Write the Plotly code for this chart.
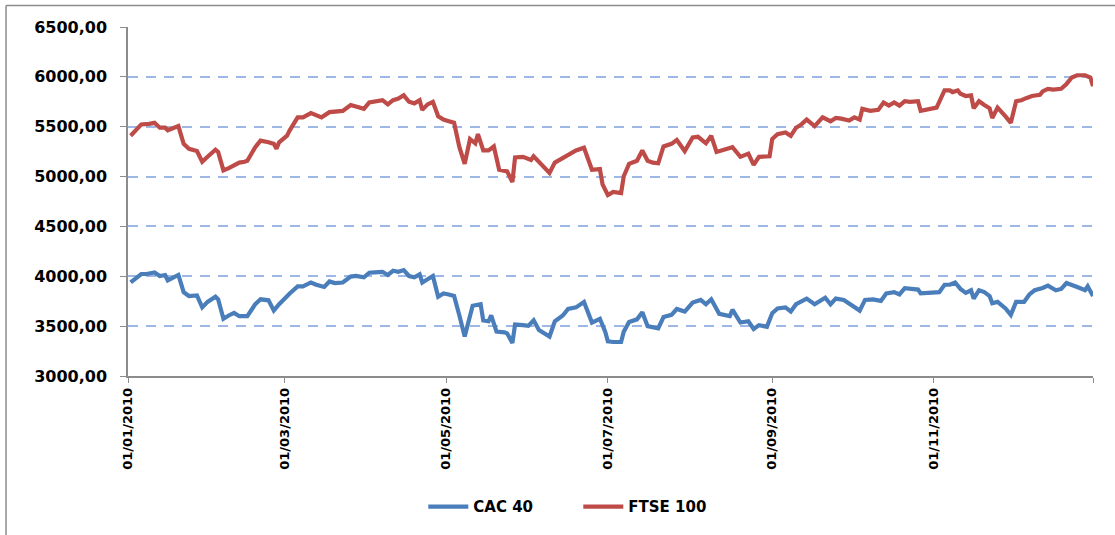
import pandas as pd
import plotly.graph_objects as go

# Day of year (0 = 01/01/2010) and index level
ftse_days = [1, 3, 5, 8, 10, 12, 14, 15, 17, 19, 21, 23, 26, 28, 30, 33, 34, 36, 38, 42,
             44, 45, 48, 50, 53, 55, 56, 57, 60, 61, 64, 66, 69, 71, 73, 76, 78, 81, 84, 86,
             89, 91, 93, 96, 98, 100, 102, 104, 106, 108, 110, 111, 113, 115, 117, 119, 121, 123, 125, 127,
             129, 131, 132, 134, 136, 138, 140, 142, 143, 145, 146, 149, 152, 153, 156, 159, 161, 164, 167, 169,
             172, 175, 178, 179, 181, 183, 186, 187, 189, 192, 194, 196, 198, 200, 202, 205, 207, 210, 213, 215,
             218, 220, 222, 225, 228, 231, 233, 234, 236, 238, 242, 243, 245, 248, 250, 252, 254, 256, 259, 262,
             265, 267, 269, 272, 274, 276, 277, 280, 283, 285, 287, 289, 291, 293, 295, 298, 299, 301, 303, 305,
             306, 308, 310, 311, 313, 314, 316, 318, 319, 321, 323, 325, 326, 328, 331, 333, 335, 337, 339, 341,
             344, 345, 347, 349, 352, 354, 356, 358, 361, 363, 364]
ftse_values = [5409, 5474, 5523, 5529, 5539, 5490, 5490, 5464, 5490, 5506, 5328, 5279, 5256, 5149, 5198, 5269, 5247, 5062, 5084, 5140,
               5149, 5159, 5295, 5360, 5344, 5328, 5279, 5344, 5410, 5464, 5594, 5594, 5636, 5620, 5594, 5646, 5653, 5659, 5718, 5701,
               5679, 5743, 5750, 5766, 5724, 5766, 5782, 5815, 5750, 5734, 5766, 5669, 5724, 5750, 5604, 5571, 5555, 5540, 5295, 5127,
               5377, 5334, 5425, 5262, 5262, 5302, 5068, 5062, 5052, 4945, 5191, 5198, 5166, 5204, 5127, 5036, 5140, 5182, 5230, 5262,
               5289, 5068, 5075, 4922, 4815, 4847, 4834, 5003, 5127, 5159, 5262, 5159, 5140, 5133, 5302, 5328, 5367, 5256, 5393, 5399,
               5334, 5409, 5247, 5269, 5295, 5198, 5214, 5230, 5117, 5198, 5204, 5377, 5425, 5442, 5409, 5490, 5523, 5571, 5506, 5594,
               5555, 5588, 5581, 5562, 5594, 5571, 5679, 5659, 5669, 5743, 5711, 5743, 5711, 5756, 5750, 5756, 5659, 5669, 5685, 5692,
               5750, 5864, 5864, 5847, 5864, 5831, 5808, 5815, 5685, 5756, 5718, 5685, 5588, 5692, 5604, 5539, 5756, 5766, 5789, 5808,
               5821, 5854, 5880, 5873, 5880, 5929, 5994, 6016, 6016, 5994, 5906]

cac_days = [1, 3, 5, 7, 9, 10, 12, 14, 15, 17, 19, 21, 23, 26, 28, 30, 33, 34, 36, 38,
            40, 42, 45, 48, 50, 53, 55, 57, 59, 61, 64, 66, 69, 71, 74, 76, 78, 81, 84, 86,
            89, 91, 93, 96, 98, 100, 102, 104, 106, 108, 110, 111, 113, 115, 117, 119, 121, 123, 125, 127,
            130, 132, 133, 134, 136, 137, 139, 142, 143, 145, 146, 149, 151, 153, 155, 159, 161, 164, 166, 169,
            172, 175, 178, 180, 181, 183, 186, 187, 189, 192, 194, 196, 198, 200, 202, 205, 207, 210, 213, 216,
            218, 220, 223, 227, 228, 231, 234, 236, 238, 241, 243, 245, 248, 250, 252, 254, 256, 259, 261, 263,
            265, 267, 270, 273, 276, 278, 281, 284, 286, 289, 291, 293, 296, 298, 299, 302, 303, 306, 308, 310,
            312, 314, 316, 318, 319, 321, 323, 325, 326, 328, 331, 333, 335, 338, 340, 342, 345, 347, 350, 352,
            354, 357, 359, 361, 362, 364]
cac_values = [3938, 3980, 4023, 4023, 4039, 4039, 4003, 4013, 3958, 3980, 4013, 3841, 3802, 3808, 3688, 3743, 3795, 3769, 3574, 3607,
              3633, 3600, 3600, 3720, 3769, 3759, 3656, 3720, 3776, 3828, 3899, 3899, 3938, 3915, 3893, 3948, 3932, 3938, 3997, 4003,
              3990, 4036, 4039, 4045, 4013, 4055, 4045, 4062, 4003, 3990, 4019, 3938, 3971, 4003, 3795, 3828, 3818, 3802, 3607, 3396,
              3704, 3711, 3720, 3558, 3549, 3607, 3445, 3438, 3428, 3331, 3516, 3510, 3503, 3558, 3461, 3396, 3549, 3607, 3672, 3688,
              3743, 3536, 3574, 3445, 3347, 3341, 3341, 3445, 3542, 3568, 3640, 3500, 3490, 3477, 3591, 3613, 3672, 3646, 3737, 3763,
              3720, 3769, 3623, 3600, 3665, 3536, 3549, 3471, 3510, 3494, 3630, 3678, 3688, 3646, 3720, 3753, 3776, 3720, 3753, 3785,
              3720, 3776, 3763, 3704, 3656, 3763, 3769, 3753, 3828, 3841, 3818, 3880, 3867, 3867, 3828, 3834, 3834, 3841, 3915, 3915,
              3938, 3873, 3834, 3860, 3776, 3860, 3841, 3802, 3730, 3743, 3678, 3613, 3743, 3743, 3818, 3860, 3883, 3906, 3860, 3873,
              3932, 3906, 3883, 3860, 3899, 3802]

tick_dates = ["2010-01-01", "2010-03-01", "2010-05-01", "2010-07-01", "2010-09-01", "2010-11-01", "2010-12-31"]
tick_labels = ["01/01/2010", "01/03/2010", "01/05/2010", "01/07/2010", "01/09/2010", "01/11/2010", ""]
y_ticks = [3000, 3500, 4000, 4500, 5000, 5500, 6000, 6500]

start = pd.Timestamp("2010-01-01")
ftse_dates = start + pd.to_timedelta(ftse_days, unit="D")
cac_dates = start + pd.to_timedelta(cac_days, unit="D")

fig = go.Figure()
fig.add_trace(go.Scatter(x=cac_dates, y=cac_values, mode="lines", name="CAC 40",
                         line=dict(color="#4A7EBB", width=4.2)))
fig.add_trace(go.Scatter(x=ftse_dates, y=ftse_values, mode="lines", name="FTSE 100",
                         line=dict(color="#BE4B48", width=4.2)))

font_main = dict(family="DejaVu Sans", size=16, color="#000000", weight="bold")

fig.update_layout(
    width=1115, height=535,
    margin=dict(l=128, r=22, t=27, b=150),
    paper_bgcolor="white", plot_bgcolor="white",
    separators=",.",
    showlegend=True,
    legend=dict(orientation="h", x=0.306, xanchor="left", y=-0.375, yanchor="middle",
                font=dict(family="DejaVu Sans", size=15, color="#000000", weight="bold"),
                itemwidth=40, entrywidth=100, entrywidthmode="pixels", traceorder="normal"),
    xaxis=dict(
        type="date", range=["2010-01-01", "2010-12-31"],
        tickvals=tick_dates, ticktext=tick_labels, tickangle=-90,
        tickfont=dict(family="DejaVu Sans", size=13, color="#000000", weight="bold"),
        showgrid=False, zeroline=False,
        showline=True, linecolor="#8c8c8c", linewidth=1.5,
        ticks="outside", ticklen=5, tickcolor="#8c8c8c",
    ),
    yaxis=dict(
        range=[3000, 6500], tickvals=y_ticks, tickformat=".2f",
        tickfont=font_main, ticklabelstandoff=10,
        showgrid=True, gridcolor="#9db8e4", gridwidth=1.5, griddash="10px,8px",
        zeroline=False,
        showline=True, linecolor="#8c8c8c", linewidth=1.5,
        ticks="outside", ticklen=6, tickcolor="#8c8c8c",
    ),
    # chart-area frame: only its top and left sides fall inside the window
    shapes=[
        dict(type="line", xref="paper", yref="paper", x0=-0.1264, x1=1.05, y0=1.0615, y1=1.0615,
             line=dict(color="#8c8c8c", width=1.5)),
        dict(type="line", xref="paper", yref="paper", x0=-0.1264, x1=-0.1264, y0=-0.5, y1=1.0615,
             line=dict(color="#8c8c8c", width=1.5)),
    ],
)

# drop the default page margin so the chart sits at the window's top-left corner
fig.write_html("out.html", config={"displayModeBar": False},
               post_script="document.body.style.margin='0';")
